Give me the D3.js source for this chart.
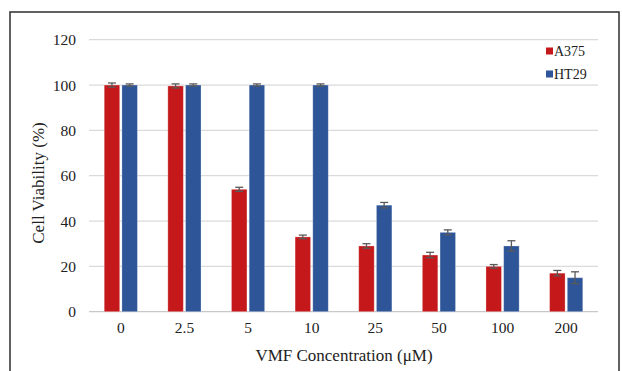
<!DOCTYPE html>
<html><head><meta charset="utf-8">
<script src="https://cdn.jsdelivr.net/npm/d3@7"></script>
<style>body{margin:0;background:#fff}svg{display:block}svg text{font-family:"Liberation Serif","Times New Roman","DejaVu Serif",serif}</style>
</head><body>
<script>
const categories = ["0","2.5","5","10","25","50","100","200"];
const seriesNames = ["A375","HT29"];
const a375 = [100,99.6,54,33,29,25,20,17];
const a375Err = [0.9,0.9,0.9,0.8,1,1.2,0.8,1.2];
const ht29 = [100,100,100,100,47,35,29,15];
const ht29Err = [0.5,0.5,0.5,0.5,1.2,1.1,2.3,2.6];
const yTicks = [0,20,40,60,80,100,120];
const colors = ["#c4181b","#2e5597"];

const W=622,H=371;
const svg=d3.select("body").append("svg").attr("width",W).attr("height",H);
const font='"Liberation Serif","Times New Roman",serif';

// outer border
svg.append("rect").attr("x",10).attr("y",12).attr("width",609).attr("height",370)
  .attr("fill","none").attr("stroke","#3a3a3a").attr("stroke-width",1.6);

const x=d3.scaleBand().domain(categories).range([89,598]);
const y=d3.scaleLinear().domain([0,120]).range([311.7,39.7]);

// gridlines
svg.append("g").selectAll("line").data(yTicks).join("line")
  .attr("x1",89).attr("x2",598).attr("y1",d=>y(d)).attr("y2",d=>y(d))
  .attr("stroke",d=>d===0?"#c8c8c8":"#dadada").attr("stroke-width",1.2);

// y axis labels
const yAxis=d3.axisLeft(y).tickValues(yTicks).tickSize(0).tickPadding(0);
const gy=svg.append("g").attr("transform","translate(76,0)").call(yAxis);
gy.select(".domain").remove();
gy.attr("font-family",null).attr("font-size",null);
gy.selectAll("text").style("font-family",font).style("font-size","15.5px").attr("fill","#222");

// x axis labels
const xAxis=d3.axisBottom(x).tickSize(0).tickPadding(0);
const gx=svg.append("g").attr("transform","translate(0,322)").call(xAxis);
gx.select(".domain").remove();
gx.attr("font-family",null).attr("font-size",null);
gx.selectAll("text").style("font-family",font).style("font-size","15.5px").attr("fill","#222");

const sub=d3.scaleBand().domain(seriesNames).range([0,x.bandwidth()]).paddingInner(0.125).paddingOuter(0.86);
const data=[a375,ht29], errs=[a375Err,ht29Err];
seriesNames.forEach((s,si)=>{
  const g=svg.append("g");
  g.selectAll("rect").data(categories).join("rect")
    .attr("x",c=>x(c)+sub(s)).attr("width",sub.bandwidth())
    .attr("y",(c,i)=>y(data[si][i])).attr("height",(c,i)=>y(0)-y(data[si][i]))
    .attr("fill",colors[si]).attr("stroke","#fff").attr("stroke-opacity",0.35).attr("stroke-width",0.8);
  const eg=svg.append("g").attr("stroke","#5a5a5a").attr("stroke-width",1.3);
  categories.forEach((c,i)=>{
    const cx=x(c)+sub(s)+sub.bandwidth()/2;
    const v=data[si][i], e=errs[si][i];
    eg.append("line").attr("x1",cx).attr("x2",cx).attr("y1",y(v+e)).attr("y2",y(v-e));
    eg.append("line").attr("x1",cx-4).attr("x2",cx+4).attr("y1",y(v+e)).attr("y2",y(v+e));
    eg.append("line").attr("x1",cx-4).attr("x2",cx+4).attr("y1",y(v-e)).attr("y2",y(v-e));
  });
});

// legend
const lg=svg.append("g");
seriesNames.forEach((s,i)=>{
  const ly=51+i*23;
  lg.append("rect").attr("x",546).attr("y",ly-3.5).attr("width",7).attr("height",7).attr("fill",colors[i]);
  lg.append("text").attr("x",554).attr("y",ly+5).style("font-family",font).style("font-size","14px").attr("fill","#222").text(s);
});

// axis titles
svg.append("text").attr("transform","translate(44,183) rotate(-90)").attr("text-anchor","middle")
  .style("font-family",font).style("font-size","17px").attr("fill","#222").text("Cell Viability (%)");
svg.append("text").attr("x",344).attr("y",361).attr("text-anchor","middle")
  .style("font-family",font).style("font-size","17px").attr("fill","#222").text("VMF Concentration (μM)");
</script>
</body></html>
